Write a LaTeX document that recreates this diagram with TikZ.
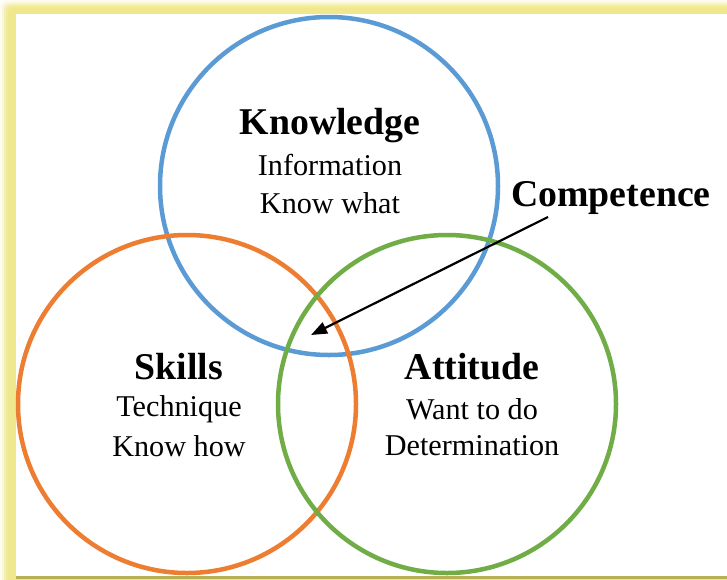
\documentclass[tikz,border=0pt]{standalone}
\usepackage{fontspec}
\setmainfont{Liberation Serif}
\usetikzlibrary{arrows.meta}
\definecolor{cblue}{RGB}{91,155,213}
\definecolor{corange}{RGB}{237,125,49}
\definecolor{cgreen}{RGB}{112,173,71}
\definecolor{glow}{RGB}{240,232,140}
\definecolor{olive}{RGB}{185,175,85}
\tikzset{
  ring/.style={circle, draw=#1, line width=4.5pt, minimum size=338pt, inner sep=0pt},
  title/.style={font=\fontsize{37.8}{40}\selectfont\bfseries, inner sep=0pt},
  sub/.style={font=\fontsize{30.2}{32}\selectfont, inner sep=0pt},
}
\begin{document}
\begin{tikzpicture}[x=1pt,y=-1pt]
\useasboundingbox (0,0) rectangle (727,579);
% glow frame
\fill[white] (0,0) rectangle (727,579);
\foreach \d/\o in {0/0.12,2/0.25,4/0.45,6/0.7,8/0.9} {
  \fill[glow, opacity=\o, rounded corners=6pt] (\d,\d) rectangle (740,590);
}
\fill[white] (16,14) rectangle (727,576);
\fill[olive] (16,576) rectangle (727,579);
% circles
\node[ring=cblue] (know) at (329,186) {};
\node[ring=corange] (skill) at (187,404) {};
\node[ring=cgreen] (att) at (447,404) {};
% texts
\node[title] (t1) at (330,126) {Knowledge};
\node[sub] (t1a) at (330,165) {Information};
\node[sub] (t1b) at (330,203) {Know what};
\node[title] (t2) at (179,367) {Skills};
\node[sub] (t2a) at (179,409) {Technique};
\node[sub] (t2b) at (179,446) {Know how};
\node[title] (t3) at (472,367) {Attitude};
\node[sub] (t3a) at (472,409) {Want to do};
\node[sub] (t3b) at (472,446) {Determination};
\node[title] (comp) at (611,198) {Competence};
\coordinate (astart) at (548,217);
\coordinate (aend) at (311,335);
\draw[line width=2.2pt, -{Triangle[length=16pt,width=12pt]}] (astart) -- (aend);
\end{tikzpicture}
\end{document}
